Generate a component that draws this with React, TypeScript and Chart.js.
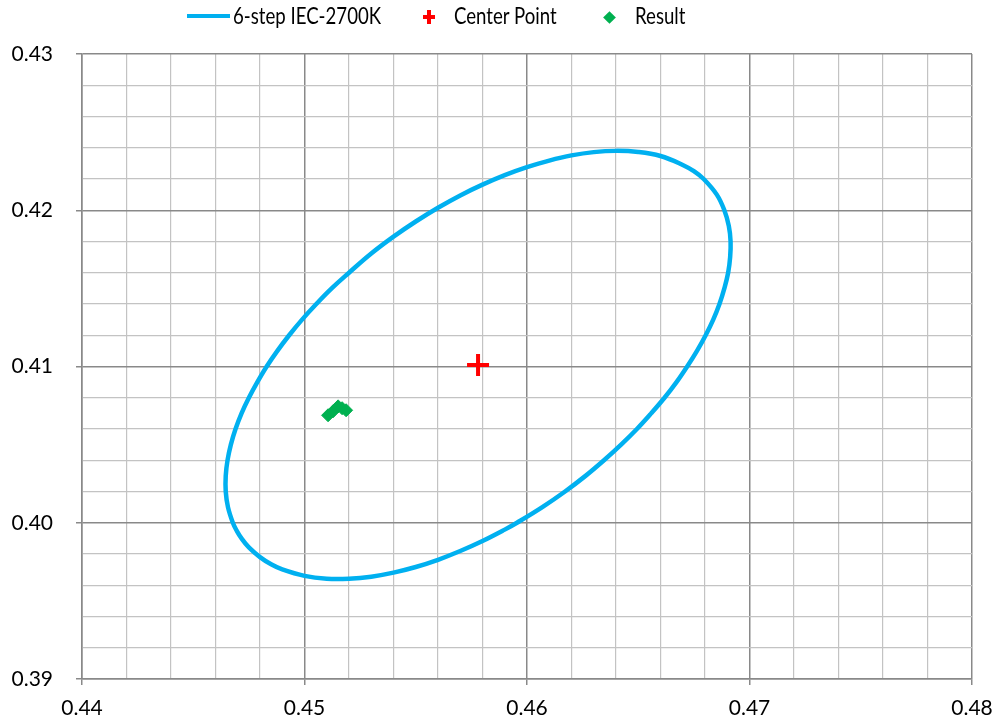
import React, { useEffect, useRef } from 'react';
import { Chart, registerables } from 'chart.js';

Chart.register(...registerables);

// ---- data (closed outline, clockwise) ----
const ellipseX = [
  0.452, 0.453, 0.454, 0.455, 0.456, 0.457, 0.458, 0.459, 0.46, 0.461, 0.462, 0.463, 0.464,
  0.465, 0.466, 0.467, 0.4675, 0.46794, 0.46853, 0.46887, 0.46907, 0.46915, 0.46913, 0.46904,
  0.46887, 0.46865, 0.46837, 0.46803, 0.46764, 0.4672, 0.46672, 0.46618, 0.46558, 0.46494,
  0.46423, 0.46346, 0.46263, 0.46171, 0.46069, 0.45955, 0.459, 0.458, 0.457, 0.456, 0.455,
  0.454, 0.453, 0.452, 0.451, 0.45, 0.449, 0.4485, 0.448, 0.4475, 0.44717, 0.44695, 0.44678,
  0.44656, 0.44646, 0.44646, 0.44654, 0.44669, 0.4469, 0.44717, 0.4475, 0.44788, 0.4483,
  0.44878, 0.44931, 0.44989, 0.45053, 0.45122,
];
const ellipseY = [
  0.416, 0.41723, 0.41831, 0.41928, 0.42016, 0.42095, 0.42164, 0.42225, 0.42276, 0.42318, 0.42351, 0.42372, 0.4238,
  0.42373, 0.42347, 0.4229, 0.4225, 0.422, 0.421, 0.42, 0.419, 0.418, 0.417, 0.416,
  0.415, 0.414, 0.413, 0.412, 0.411, 0.41, 0.409, 0.408, 0.407, 0.406,
  0.405, 0.404, 0.403, 0.402, 0.401, 0.4, 0.39956, 0.39883, 0.39819, 0.39763, 0.39717,
  0.39681, 0.39655, 0.39642, 0.39642, 0.3966, 0.39701, 0.39734, 0.3978, 0.39842, 0.399, 0.3995, 0.4,
  0.401, 0.402, 0.403, 0.404, 0.405, 0.406, 0.407, 0.408, 0.409, 0.41,
  0.411, 0.412, 0.413, 0.414, 0.415,
];
const centerX = [0.4578];
const centerY = [0.4101];
const resultX = [0.45106, 0.45128, 0.45151, 0.45169, 0.45187];
const resultY = [0.40688, 0.40713, 0.40745, 0.40733, 0.4072];

const xTickLabels = ['0.44', '0.45', '0.46', '0.47', '0.48'];
const yTickLabels = ['0.39', '0.40', '0.41', '0.42', '0.43'];
const seriesNames = ['6-step IEC-2700K', 'Center Point', 'Result'];

const BLUE = '#00b0f0';
const RED = '#ff0000';
const GREEN = '#00b050';
const MAJOR = '#898989';
const MINOR = '#c3c3c3';
const FONT = 'Lato, "Open Sans", sans-serif';

function pts(xs: number[], ys: number[]) {
  return xs.map((x, i) => ({ x, y: ys[i] }));
}

// closes the outline dataset into a smooth loop
const closeLoopPlugin = {
  id: 'closeLoop',
  afterDatasetsUpdate(chart: any) {
    chart.data.datasets.forEach((ds: any, i: number) => {
      if (!ds.closedLoop) return;
      const line = chart.getDatasetMeta(i).dataset;
      if (!line) return;
      line._loop = true;
      line._fullLoop = true;
      delete line._segments;
      line._path = undefined;
      line._pointsUpdated = false;
    });
  },
};

export default function App() {
  const ref = useRef<HTMLCanvasElement | null>(null);

  useEffect(() => {
    let chart: Chart | null = null;
    let cancelled = false;
    const make = () => {
      if (cancelled || !ref.current) return;
      const isMajor = (c: any) => c.index % 5 === 0;
      const grid = {
        color: (c: any) => (isMajor(c) ? MAJOR : MINOR),
        lineWidth: (c: any) => (isMajor(c) ? 1.5 : 1.2),
        tickLength: 6,
        tickColor: (c: any) => (isMajor(c) ? MAJOR : 'rgba(0,0,0,0)'),
        tickWidth: 1.5,
      };
      chart = new Chart(ref.current, {
        type: 'scatter',
        plugins: [closeLoopPlugin],
        data: {
          datasets: [
            {
              label: seriesNames[2],
              data: pts(resultX, resultY),
              pointStyle: 'rectRot',
              pointRadius: 6.5,
              backgroundColor: GREEN,
              borderColor: GREEN,
              borderWidth: 1,
              showLine: false,
              order: 0,
            },
            {
              label: seriesNames[1],
              data: pts(centerX, centerY),
              pointStyle: 'cross',
              pointRadius: 11,
              borderColor: RED,
              backgroundColor: RED,
              borderWidth: 4,
              showLine: false,
              order: 1,
            },
            {
              label: seriesNames[0],
              data: pts(ellipseX, ellipseY),
              closedLoop: true,
              showLine: true,
              spanGaps: true,
              borderColor: BLUE,
              backgroundColor: BLUE,
              borderWidth: 4.5,
              borderJoinStyle: 'round',
              pointRadius: 0,
              tension: 0.4,
              fill: false,
              order: 2,
            },
          ],
        },
        options: {
          animation: false,
          responsive: false,
          maintainAspectRatio: false,
          layout: { padding: { top: 54, right: 23, bottom: 0, left: 0 } },
          plugins: { legend: { display: false }, tooltip: { enabled: false } },
          scales: {
            x: {
              type: 'linear',
              min: 0.44,
              max: 0.48,
              ticks: {
                stepSize: 0.002,
                autoSkip: false,
                maxRotation: 0,
                padding: 11,
                color: '#000',
                font: { family: FONT, size: 21 },
                callback: (_v: any, i: number) => (i % 5 === 0 ? xTickLabels[i / 5] : ''),
              },
              grid,
              border: { color: MAJOR, width: 1.5 },
              afterFit: (s: any) => {
                s.height = 46;
                s.paddingLeft = 0;
                s.paddingRight = 0;
              },
            },
            y: {
              type: 'linear',
              min: 0.39,
              max: 0.43,
              ticks: {
                stepSize: 0.002,
                autoSkip: false,
                padding: 23,
                color: '#000',
                font: { family: FONT, size: 21 },
                callback: (_v: any, i: number) => (i % 5 === 0 ? yTickLabels[i / 5] : ''),
              },
              grid,
              border: { color: MAJOR, width: 1.5 },
              afterFit: (s: any) => {
                s.width = 82;
                s.paddingTop = 0;
                s.paddingBottom = 0;
              },
            },
          },
        },
      } as any);
    };
    const fonts: any = (document as any).fonts;
    if (fonts && fonts.load) {
      fonts.load('21px Lato').then(make, make);
    } else {
      make();
    }
    return () => {
      cancelled = true;
      if (chart) chart.destroy();
    };
  }, []);

  const textStyle: React.CSSProperties = {
    position: 'absolute',
    top: 3,
    fontFamily: FONT,
    fontSize: 23,
    lineHeight: '24px',
    color: '#000',
    whiteSpace: 'nowrap',
    transform: 'scaleX(0.81)',
    transformOrigin: 'left center',
  };

  return (
    <div style={{ position: 'absolute', left: 0, top: 0, width: 995, height: 725, background: '#fff' }}>
      <canvas ref={ref} width={995} height={725} style={{ display: 'block', width: 995, height: 725 }} />
      <div style={{ position: 'absolute', left: 187, top: 13.5, width: 43, height: 4, background: BLUE }} />
      <span style={{ ...textStyle, left: 233 }}>{seriesNames[0]}</span>
      <div style={{ position: 'absolute', left: 423, top: 15, width: 12, height: 4, background: RED }} />
      <div style={{ position: 'absolute', left: 427, top: 10, width: 4, height: 14, background: RED }} />
      <span style={{ ...textStyle, left: 454 }}>{seriesNames[1]}</span>
      <div
        style={{
          position: 'absolute',
          left: 604.5,
          top: 12.5,
          width: 9,
          height: 9,
          background: GREEN,
          transform: 'rotate(45deg)',
        }}
      />
      <span style={{ ...textStyle, left: 635 }}>{seriesNames[2]}</span>
    </div>
  );
}
